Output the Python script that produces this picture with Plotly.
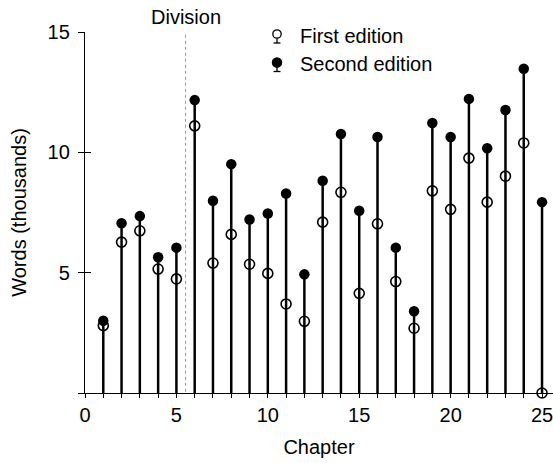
import plotly.graph_objects as go

chapters = list(range(1, 26))
first_edition = [2.80, 6.27, 6.74, 5.15, 4.74, 11.10, 5.40, 6.59, 5.35, 4.97, 3.70, 2.98, 7.10,
                 8.34, 4.14, 7.03, 4.63, 2.69, 8.40, 7.63, 9.76, 7.93, 9.01, 10.39, 0.00]
second_edition = [3.00, 7.05, 7.35, 5.64, 6.04, 12.17, 7.99, 9.51, 7.21, 7.46, 8.29, 4.93, 8.82,
                  10.76, 7.57, 10.64, 6.04, 3.40, 11.22, 10.64, 12.22, 10.17, 11.76, 13.47, 7.93]
series_names = ["First edition", "Second edition"]
x_ticks = list(range(0, 26))
x_ticktext = [str(v) if v % 5 == 0 else "" for v in x_ticks]
y_ticks = [0, 5, 10, 15]
y_ticktext = ["", "5", "10", "15"]
division = 5.5
division_label = "Division"

FONT = "Liberation Sans, Arial, Helvetica, sans-serif"
W, H = 553, 463
ML, MR, MT, MB = 85, 0, 32, 70


def px_x(px):
    return (px - ML) / (W - ML - MR)


def px_y(py):
    return (H - MB - py) / (H - MT - MB)


stem_x, stem_y = [], []
for c, s in zip(chapters, second_edition):
    stem_x += [c, c, None]
    stem_y += [0, s, None]

fig = go.Figure()
fig.add_trace(go.Scatter(x=stem_x, y=stem_y, mode="lines",
                         line=dict(color="black", width=2.5),
                         showlegend=False, hoverinfo="skip", cliponaxis=False))
fig.add_trace(go.Scatter(x=chapters, y=second_edition, mode="markers", name=series_names[1],
                         marker=dict(symbol="circle", size=10.5, color="black"),
                         showlegend=False, cliponaxis=False))
fig.add_trace(go.Scatter(x=chapters, y=first_edition, mode="markers", name=series_names[0],
                         marker=dict(symbol="circle-open", size=10,
                                     line=dict(color="black", width=1.6), color="black"),
                         showlegend=False, cliponaxis=False))
# dummy trace so the overlay axis (inner half of crossing ticks) is drawn
fig.add_trace(go.Scatter(x=[None], y=[None], yaxis="y2", showlegend=False, hoverinfo="skip"))

fig.add_shape(type="line", x0=division, x1=division, y0=-0.2, y1=15, xref="x", yref="y",
              line=dict(color="#999999", width=1, dash="3px,3px"))
fig.add_annotation(x=division, y=15, xref="x", yref="y", text=division_label,
                   showarrow=False, yanchor="bottom", yshift=2,
                   font=dict(family=FONT, size=20, color="black"))

# custom legend: lollipop icons (circle on a short stem with a base) + labels
icon_x = px_x(277)
row_y = [34, 62.5]
for i, (name, ry) in enumerate(zip(series_names, row_y)):
    ay = px_y(ry)
    # stem
    fig.add_shape(type="line", xref="paper", yref="paper",
                  xsizemode="pixel", ysizemode="pixel", xanchor=icon_x, yanchor=ay,
                  x0=0, x1=0, y0=0, y1=-9, line=dict(color="black", width=1.3))
    # base
    fig.add_shape(type="line", xref="paper", yref="paper",
                  xsizemode="pixel", ysizemode="pixel", xanchor=icon_x, yanchor=ay,
                  x0=-3.5, x1=3.5, y0=-9, y1=-9, line=dict(color="black", width=1.3))
    # circle
    r = 4.2 if i == 0 else 4.6
    fig.add_shape(type="circle", xref="paper", yref="paper",
                  xsizemode="pixel", ysizemode="pixel", xanchor=icon_x, yanchor=ay,
                  x0=-r, x1=r, y0=-r, y1=r,
                  line=dict(color="black", width=1.3),
                  fillcolor="white" if i == 0 else "black")
    fig.add_annotation(x=px_x(298), y=px_y(ry + 1.5), xref="paper", yref="paper",
                       text=name, showarrow=False, xanchor="left", yanchor="middle",
                       font=dict(family=FONT, size=20, color="black"))

fig.update_layout(
    width=W, height=H,
    margin=dict(l=ML, r=MR, t=MT, b=MB, autoexpand=False),
    paper_bgcolor="white", plot_bgcolor="white",
    font=dict(family=FONT, size=20, color="black"),
    showlegend=False,
    xaxis=dict(range=[0, 25.6], tickvals=x_ticks, ticktext=x_ticktext,
               ticks="outside", ticklen=4, tickwidth=1.3, tickcolor="black",
               showline=True, linecolor="black", linewidth=1.3,
               showgrid=False, zeroline=False, ticklabeloverflow="allow",
               title=dict(text="Chapter", standoff=14, font=dict(size=20)),
               tickfont=dict(size=20)),
    yaxis=dict(range=[0, 15], tickvals=y_ticks, ticktext=y_ticktext,
               ticks="outside", ticklen=6, tickwidth=1.3, tickcolor="black",
               showline=True, linecolor="black", linewidth=1.3,
               showgrid=False, zeroline=False, ticklabelstandoff=4,
               title=dict(text="Words (thousands)", standoff=15, font=dict(size=20)),
               tickfont=dict(size=20)),
    yaxis2=dict(range=[0, 15], overlaying="y", side="left", anchor="x",
                tickvals=y_ticks, ticks="inside", ticklen=6, tickwidth=1.3, tickcolor="black",
                showticklabels=False, showline=False, showgrid=False, zeroline=False),
)

fig.write_html("out.html", config={"displayModeBar": False},
               post_script="document.body.style.margin='0';document.body.style.overflow='hidden';")
